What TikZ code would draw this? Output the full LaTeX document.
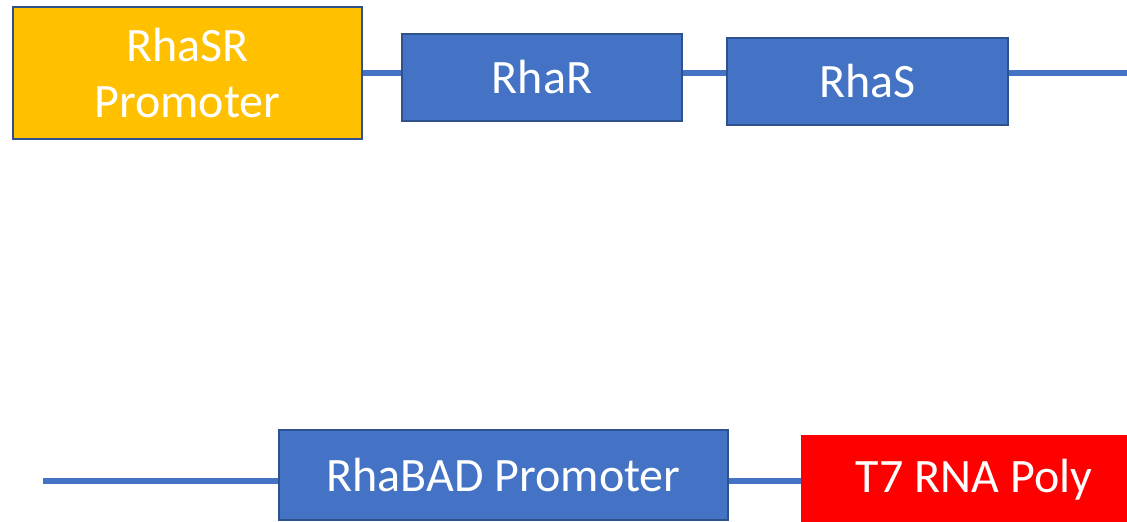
\documentclass[tikz,border=0pt]{standalone}
\usepackage{fontspec}
\setmainfont{Carlito}
\definecolor{geneblue}{HTML}{4472C4}
\definecolor{edgeblue}{HTML}{2F528F}
\definecolor{promgold}{HTML}{FFC000}
\definecolor{polyred}{HTML}{FF0000}
\begin{document}
\begin{tikzpicture}[x=1pt,y=-1pt,
  part/.style={draw=edgeblue, line width=2pt, text=white, inner sep=0pt,
    font=\fontsize{48}{56}\selectfont, align=center},
  gene/.style={part, fill=geneblue},
  strand/.style={geneblue, line width=6.5pt}]
\useasboundingbox (0,0) rectangle (1127,522);
% top operon
\node[part, fill=promgold, minimum width=349pt, minimum height=132pt] (sr) at (187.5,73) {RhaSR\\Promoter};
\node[gene, minimum width=280pt, minimum height=87pt] (rhar) at (542,77.5) {RhaR};
\node[gene, minimum width=281pt, minimum height=87pt] (rhas) at (867.5,81.5) {RhaS};
\coordinate (topend) at (1127,73);
% bottom operon
\coordinate (botstart) at (43,481);
\node[gene, minimum width=449pt, minimum height=90pt] (bad) at (503.5,475) {RhaBAD Promoter};
\node[part, draw=polyred, fill=polyred, minimum width=344pt, minimum height=88pt] (t7) at (974,480) {T7 RNA Poly};
% backbone strands
\draw[strand] (sr.east) -- (rhar.west |- sr.east);
\draw[strand] (rhar.east |- sr.east) -- (rhas.west |- sr.east);
\draw[strand] (rhas.east |- topend) -- (topend);
\draw[strand] (botstart) -- (bad.west |- botstart);
\draw[strand] (bad.east |- botstart) -- (t7.west |- botstart);
\end{tikzpicture}
\end{document}
